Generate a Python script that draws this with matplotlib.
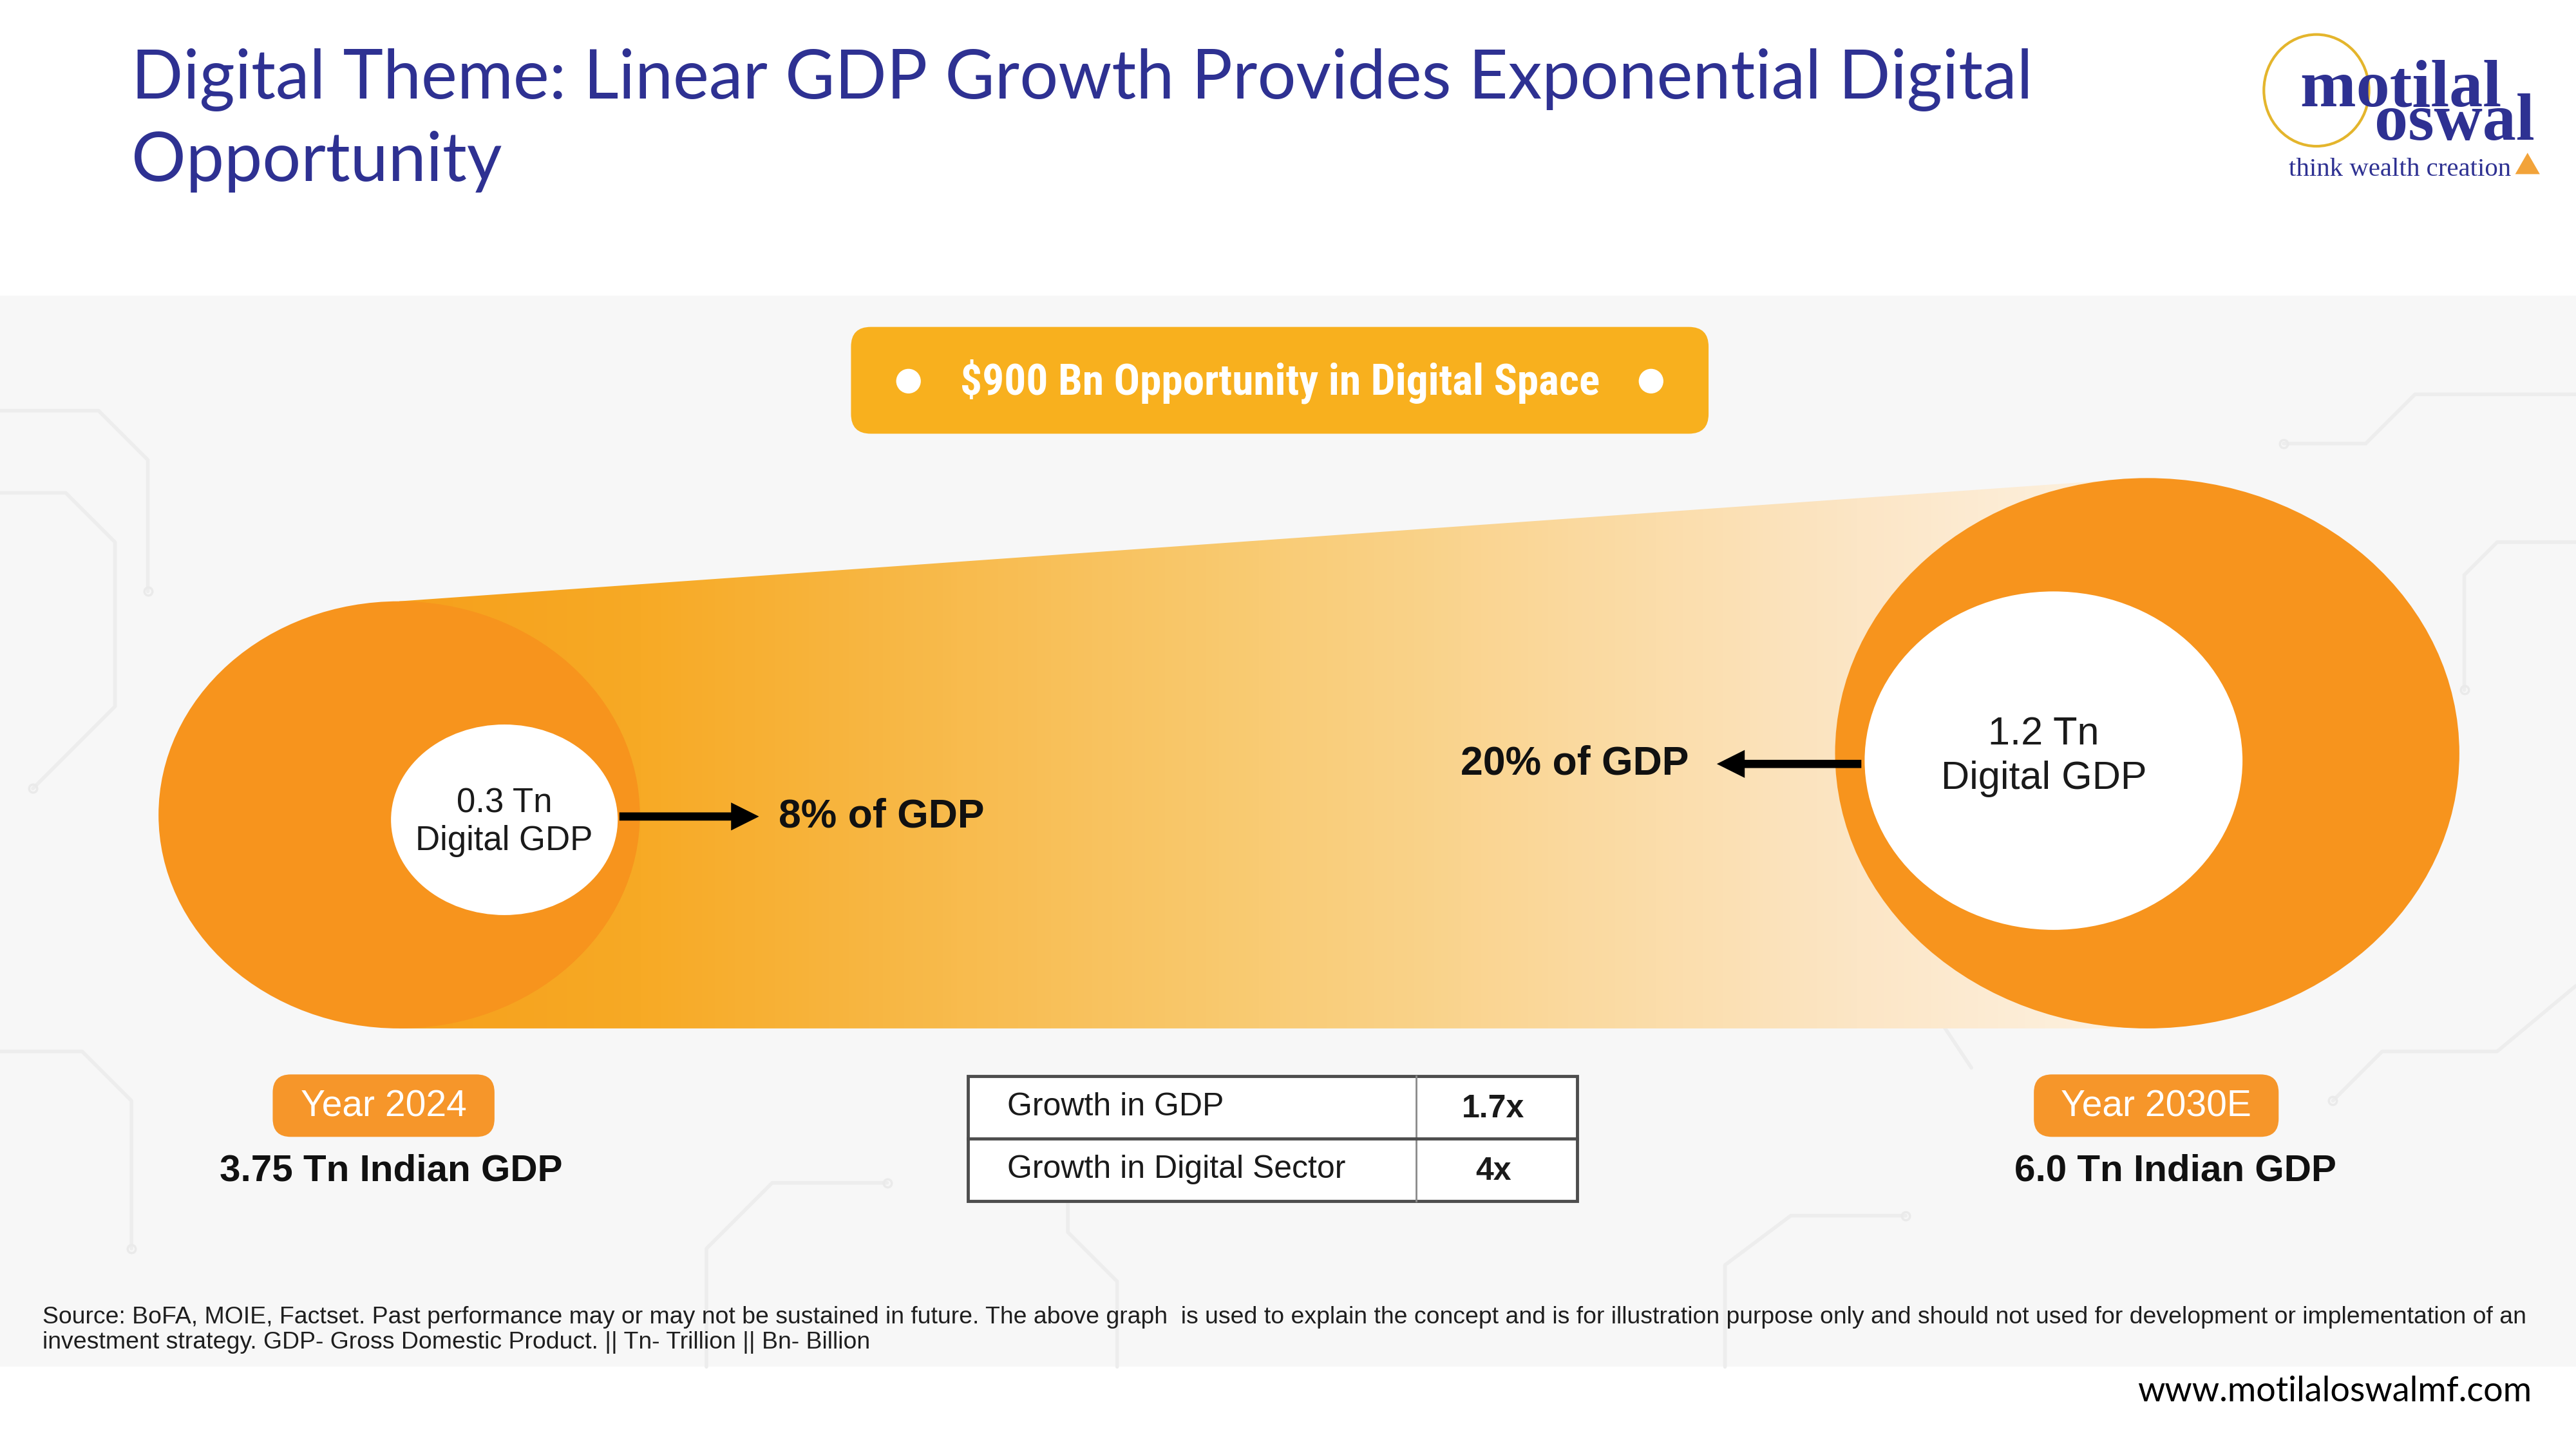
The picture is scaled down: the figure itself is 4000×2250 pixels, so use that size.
import matplotlib
matplotlib.use("Agg")
import matplotlib.pyplot as plt
import numpy as np
from matplotlib.patches import Ellipse, FancyBboxPatch, Polygon, Rectangle, FancyArrow
from matplotlib.colors import LinearSegmentedColormap

# chart values
years = ["Year 2024", "Year 2030E"]
indian_gdp_tn = [3.75, 6.0]
digital_gdp_tn = [0.3, 1.2]
digital_share_pct = [8, 20]
opportunity_bn = 900
growth_labels = ["Growth in GDP", "Growth in Digital Sector"]
growth_values = ["1.7x", "4x"]

title_lines = ["Digital Theme: Linear GDP Growth Provides Exponential Digital",
               "Opportunity"]
source_lines = [
    "Source: BoFA, MOIE, Factset. Past performance may or may not be sustained in future. "
    "The above graph  is used to explain the concept and is for illustration purpose only "
    "and should not used for development or implementation of an",
    "investment strategy. GDP- Gross Domestic Product. || Tn- Trillion || Bn- Billion",
]

NAVY = "#2E3192"
ORANGE = "#F7941D"
GOLD = "#F8B01E"
NARROW = ["Roboto Condensed", "Liberation Sans Narrow", "Open Sans Condensed", "Roboto"]

# canvas in slide units (1568 x 882), y going down
W, H = 1568, 882
SCALE = 4000 / W
fig = plt.figure(figsize=(40, 22.5), dpi=100)
ax = fig.add_axes([0, 0, 1, 1])
ax.axis("off")
renderer = fig.canvas.get_renderer()


def fit(t, width):
    # scale font so the text spans `width` slide units
    bb = t.get_window_extent(renderer=renderer)
    t.set_fontsize(t.get_fontsize() * width / (bb.width / SCALE))
    return t


# light background panel with faint circuit traces
ax.add_patch(Rectangle((0, 180), W, 652, fc="#F7F7F7", ec="none", zorder=0))
traces = [
    [(0, 250), (60, 250), (90, 280), (90, 360)],
    [(0, 300), (40, 300), (70, 330), (70, 430), (20, 480)],
    [(1568, 240), (1470, 240), (1440, 270), (1390, 270)],
    [(1568, 330), (1520, 330), (1500, 350), (1500, 420)],
    [(1568, 600), (1520, 640), (1450, 640), (1420, 670)],
    [(430, 832), (430, 760), (470, 720), (540, 720)],
    [(680, 832), (680, 780), (650, 750), (650, 700)],
    [(1050, 832), (1050, 770), (1090, 740), (1160, 740)],
    [(1200, 650), (1180, 620)],
    [(0, 640), (50, 640), (80, 670), (80, 760)],
]
for tr in traces:
    xs, ys = zip(*tr)
    ax.plot(xs, ys, color="#EDEDED", lw=4, zorder=0.5, solid_capstyle="round")
    ax.plot(xs[-1], ys[-1], "o", ms=9, mfc="none", mec="#EAEAEA", mew=2.5, zorder=0.5)

# title
t = ax.text(80, 60, title_lines[0], color=NAVY, fontsize=70, family="Lato", va="baseline")
fit(t, 1157)
ax.text(80, 110, title_lines[1], color=NAVY, fontsize=t.get_fontsize(), family="Lato",
        va="baseline")

# logo
ax.add_patch(Ellipse((1410, 55), 64, 68, fc="none", ec="#E4B52C", lw=3))
ax.text(1543, 85, "motilal  \noswal", color=NAVY, family="Liberation Serif",
        weight="bold", fontsize=75, va="baseline", ha="right", multialignment="right",
        linespacing=0.42)
t = ax.text(1393, 107, "think wealth creation", color=NAVY, family="Liberation Serif",
            fontsize=20, va="baseline")
fit(t, 135)
ax.add_patch(Polygon([(1531, 106), (1546, 106), (1538.5, 93)], fc="#F2A33A", ec="none"))

# banner
ax.add_patch(FancyBboxPatch((518, 199), 522, 65, boxstyle="round,pad=0,rounding_size=12",
                            fc=GOLD, ec="none", zorder=3))
for cx in (553, 1005):
    ax.add_patch(Ellipse((cx, 232), 15, 15, fc="white", ec="none", zorder=4))
t = ax.text(779, 232, f"${opportunity_bn} Bn Opportunity in Digital Space", color="white",
            family=NARROW, weight="bold", fontsize=50, ha="center", va="center",
            parse_math=False, zorder=5)
fit(t, 390)

# cylinder body with fading gradient
body = Polygon([(243, 366), (1290, 292), (1290, 626), (243, 626)], closed=True,
               fc="none", ec="none")
ax.add_patch(body)
cmap = LinearSegmentedColormap.from_list(
    "fade", [(0, "#F6A01C"), (0.14, "#F7AA25"), (0.5, "#F9CB73"), (0.85, "#FCE6C6"),
             (1, "#FDF1E0")])
grad = np.linspace(0, 1, 512).reshape(1, -1)
im = ax.imshow(grad, extent=(243, 1290, 626, 292), cmap=cmap, aspect="auto", zorder=1)
im.set_clip_path(body)

# end faces: outer = total GDP, inner = digital GDP
centers_outer = [(243, 496), (1307, 458.5)]
sizes_outer = [(293, 260), (380, 335)]
centers_inner = [(307, 499), (1250, 463)]
sizes_inner = [(138, 116), (230, 206)]
for co, so, ci, si in zip(centers_outer, sizes_outer, centers_inner, sizes_inner):
    ax.add_patch(Ellipse(co, so[0], so[1], fc=ORANGE, ec="none", zorder=2))
    ax.add_patch(Ellipse(ci, si[0], si[1], fc="white", ec="none", zorder=3))

inner_fs = [38, 44]
inner_y = [(489, 512), (447, 474)]
inner_x = [307, 1244]
for i in range(2):
    ax.text(inner_x[i], inner_y[i][0], f"{digital_gdp_tn[i]} Tn", fontsize=inner_fs[i],
            family="Liberation Sans", color="#1A1A1A", ha="center", va="center", zorder=4)
    ax.text(inner_x[i], inner_y[i][1], "Digital GDP", fontsize=inner_fs[i],
            family="Liberation Sans", color="#1A1A1A", ha="center", va="center", zorder=4)

# arrows to share labels
ax.add_patch(FancyArrow(377, 497, 85, 0, width=5, head_width=17, head_length=17,
                        length_includes_head=True, fc="black", ec="none", zorder=4))
ax.add_patch(FancyArrow(1133, 465, -88, 0, width=5, head_width=17, head_length=17,
                        length_includes_head=True, fc="black", ec="none", zorder=4))
ax.text(474, 497, f"{digital_share_pct[0]}% of GDP", fontsize=45, weight="bold",
        family="Liberation Sans", color="#111111", ha="left", va="center", zorder=4)
ax.text(1028, 465, f"{digital_share_pct[1]}% of GDP", fontsize=45, weight="bold",
        family="Liberation Sans", color="#111111", ha="right", va="center", zorder=4)

# year tags and GDP labels
tag_x = [166, 1238]
tag_w = [135, 149]
gdp_x = [238, 1324]
for i in range(2):
    ax.add_patch(FancyBboxPatch((tag_x[i], 654), tag_w[i], 38,
                                boxstyle="round,pad=0,rounding_size=11",
                                fc="#F6962A", ec="none", zorder=3))
    ax.text(tag_x[i] + tag_w[i] / 2, 673.5, years[i], fontsize=41, color="white",
            family="Liberation Sans", ha="center", va="center", zorder=4)
    ax.text(gdp_x[i], 713, f"{indian_gdp_tn[i]} Tn Indian GDP", fontsize=42, weight="bold",
            family="Liberation Sans", color="#111111", ha="center", va="center", zorder=4)

# growth table
ax.add_patch(Rectangle((589, 655), 371, 76, fc="white", ec="#4D4D4D", lw=3.5, zorder=3))
ax.plot([862, 862], [655, 731], color="#8A8A8A", lw=2, zorder=4)
ax.plot([589, 960], [693, 693], color="#4D4D4D", lw=3.5, zorder=4)
row_y = [674, 712]
for i in range(2):
    ax.text(613, row_y[i], growth_labels[i], fontsize=36, family="Liberation Sans",
            color="#1A1A1A", ha="left", va="center", zorder=5)
    ax.text(909, row_y[i] + 1, growth_values[i], fontsize=36, weight="bold",
            family="Liberation Sans", color="#1A1A1A", ha="center", va="center", zorder=5)

# source note
t = ax.text(26, 802, source_lines[0], fontsize=24, family="Liberation Sans", color="#1E1E1E",
            va="center")
fit(t, 1511)
ax.text(26, 817, source_lines[1], fontsize=t.get_fontsize(), family="Liberation Sans",
        color="#1E1E1E", va="center")

t = ax.text(1541, 847, "www.motilaloswalmf.com", fontsize=36, family="Lato", color="black",
            ha="right", va="center")
fit(t, 240)

ax.set_xlim(0, W)
ax.set_ylim(H, 0)
fig.savefig("out.png", dpi=100, facecolor="white")
